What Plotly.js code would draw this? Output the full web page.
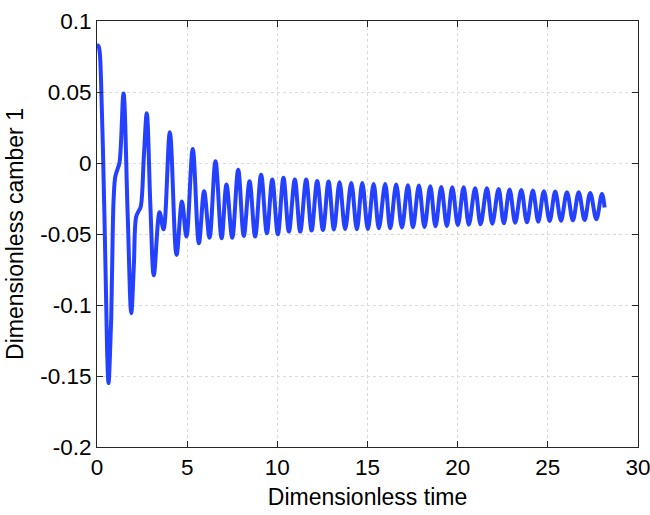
<!DOCTYPE html>
<html>
<head>
<meta charset="utf-8">
<script src="https://cdn.plot.ly/plotly-3.0.1.min.js"></script>
<style>html,body{margin:0;padding:0;background:#fff;}#chart{width:650px;height:515px;}</style>
</head>
<body>
<div id="chart"></div>
<script>
// Dimensionless time
const timeValues = [
  0.00, 0.08, 0.15, 0.22, 0.33, 0.47, 0.56, 0.64, 0.72, 0.79, 0.84, 0.92, 1.01, 1.12, 1.25, 1.47,
  1.70, 1.90, 2.04, 2.17, 2.30, 2.42, 2.60, 2.76, 2.96, 3.15, 3.47, 3.69, 4.04, 4.41, 4.71, 4.96,
  5.31, 5.65, 5.94, 6.24, 6.57, 6.91, 7.18, 7.50, 7.83, 8.14, 8.46, 8.77,
  9.10, 9.42, 9.72, 10.03, 10.34, 10.64, 10.97, 11.27, 11.60, 11.90, 12.21, 12.53, 12.84, 13.14,
  13.45, 13.76, 14.10, 14.41, 14.71, 15.02, 15.34, 15.63, 15.98, 16.26, 16.59, 16.91, 17.24, 17.52,
  17.85, 18.16, 18.48, 18.77, 19.09, 19.40, 19.70, 20.01, 20.33, 20.62, 20.97, 21.27, 21.62, 21.92,
  22.27, 22.56, 22.88, 23.19, 23.53, 23.84, 24.17, 24.47, 24.78, 25.10, 25.41, 25.73, 26.06, 26.39,
  26.71, 27.04, 27.35, 27.69, 28.00, 28.15
];
// Dimensionless camber 1
const camberValues = [
  0.083, 0.0825, 0.078, 0.060, 0.009, -0.073, -0.132, -0.155, -0.135, -0.1085, -0.073, -0.026, -0.010, -0.005, 0.0005, 0.049,
  -0.036, -0.1058, -0.073, -0.038, -0.034, -0.031, 0.005, 0.035, -0.030, -0.079, -0.0347, -0.0467, 0.0216, -0.0648, -0.0272, -0.0518,
  0.0099, -0.0566, -0.0199, -0.0526, 0.0012, -0.0530, -0.0152, -0.0526, -0.0047, -0.0514, -0.0129, -0.0518,
  -0.0082, -0.0495, -0.0117, -0.0502, -0.0103, -0.0483, -0.0117, -0.0483, -0.0117, -0.0476, -0.0127, -0.0472, -0.0131, -0.0469,
  -0.0136, -0.0465, -0.0141, -0.0467, -0.0141, -0.0465, -0.0148, -0.0460, -0.0148, -0.0460, -0.0152, -0.0455, -0.0157, -0.0453,
  -0.0159, -0.0451, -0.0164, -0.0446, -0.0169, -0.0444, -0.0171, -0.0437, -0.0171, -0.0434, -0.0178, -0.0432, -0.0178, -0.0427,
  -0.0183, -0.0425, -0.0187, -0.0420, -0.0190, -0.0418, -0.0194, -0.0413, -0.0199, -0.0408, -0.0201, -0.0406, -0.0206, -0.0404,
  -0.0206, -0.0401, -0.0211, -0.0396, -0.0218, -0.0314
];

const xTickVals = [0, 5, 10, 15, 20, 25, 30];
const xTickText = ["0", "5", "10", "15", "20", "25", "30"];
const yTickVals = [-0.2, -0.15, -0.1, -0.05, 0, 0.05, 0.1];
const yTickText = ["-0.2", "-0.15", "-0.1", "-0.05", "0", "0.05", "0.1"];

const fontFamily = '"Liberation Sans", Arial, Helvetica, sans-serif';
const axisColor = '#262626';

const trace = {
  x: timeValues,
  y: camberValues,
  type: 'scatter',
  mode: 'lines',
  line: { color: '#2441ff', width: 4, shape: 'spline', smoothing: 1 },
  hoverinfo: 'skip'
};

const axisCommon = {
  showline: true,
  linecolor: axisColor,
  linewidth: 1,
  mirror: 'ticks',
  ticks: 'inside',
  ticklen: 6,
  tickwidth: 1,
  tickcolor: axisColor,
  showgrid: true,
  gridcolor: '#dadada',
  gridwidth: 1,
  griddash: 'dot',
  zeroline: false,
  ticklabeloverflow: 'allow',
  tickfont: { family: fontFamily, size: 22.5, color: '#000' }
};

const layout = {
  width: 650,
  height: 515,
  margin: { l: 97, r: 12, t: 21, b: 68 },
  paper_bgcolor: '#fff',
  plot_bgcolor: '#fff',
  showlegend: false,
  font: { family: fontFamily, color: '#000' },
  xaxis: Object.assign({}, axisCommon, {
    range: [0, 30],
    tickmode: 'array',
    tickvals: xTickVals,
    ticktext: xTickText,
    title: { text: 'Dimensionless time', font: { family: fontFamily, size: 23, color: '#000' }, standoff: 9 }
  }),
  yaxis: Object.assign({}, axisCommon, {
    range: [-0.2, 0.1],
    tickmode: 'array',
    tickvals: yTickVals,
    ticktext: yTickText,
    title: { text: 'Dimensionless camber 1', font: { family: fontFamily, size: 23, color: '#000' }, standoff: 10 }
  })
};

Plotly.newPlot('chart', [trace], layout, { staticPlot: true, displayModeBar: false });
</script>
</body>
</html>
